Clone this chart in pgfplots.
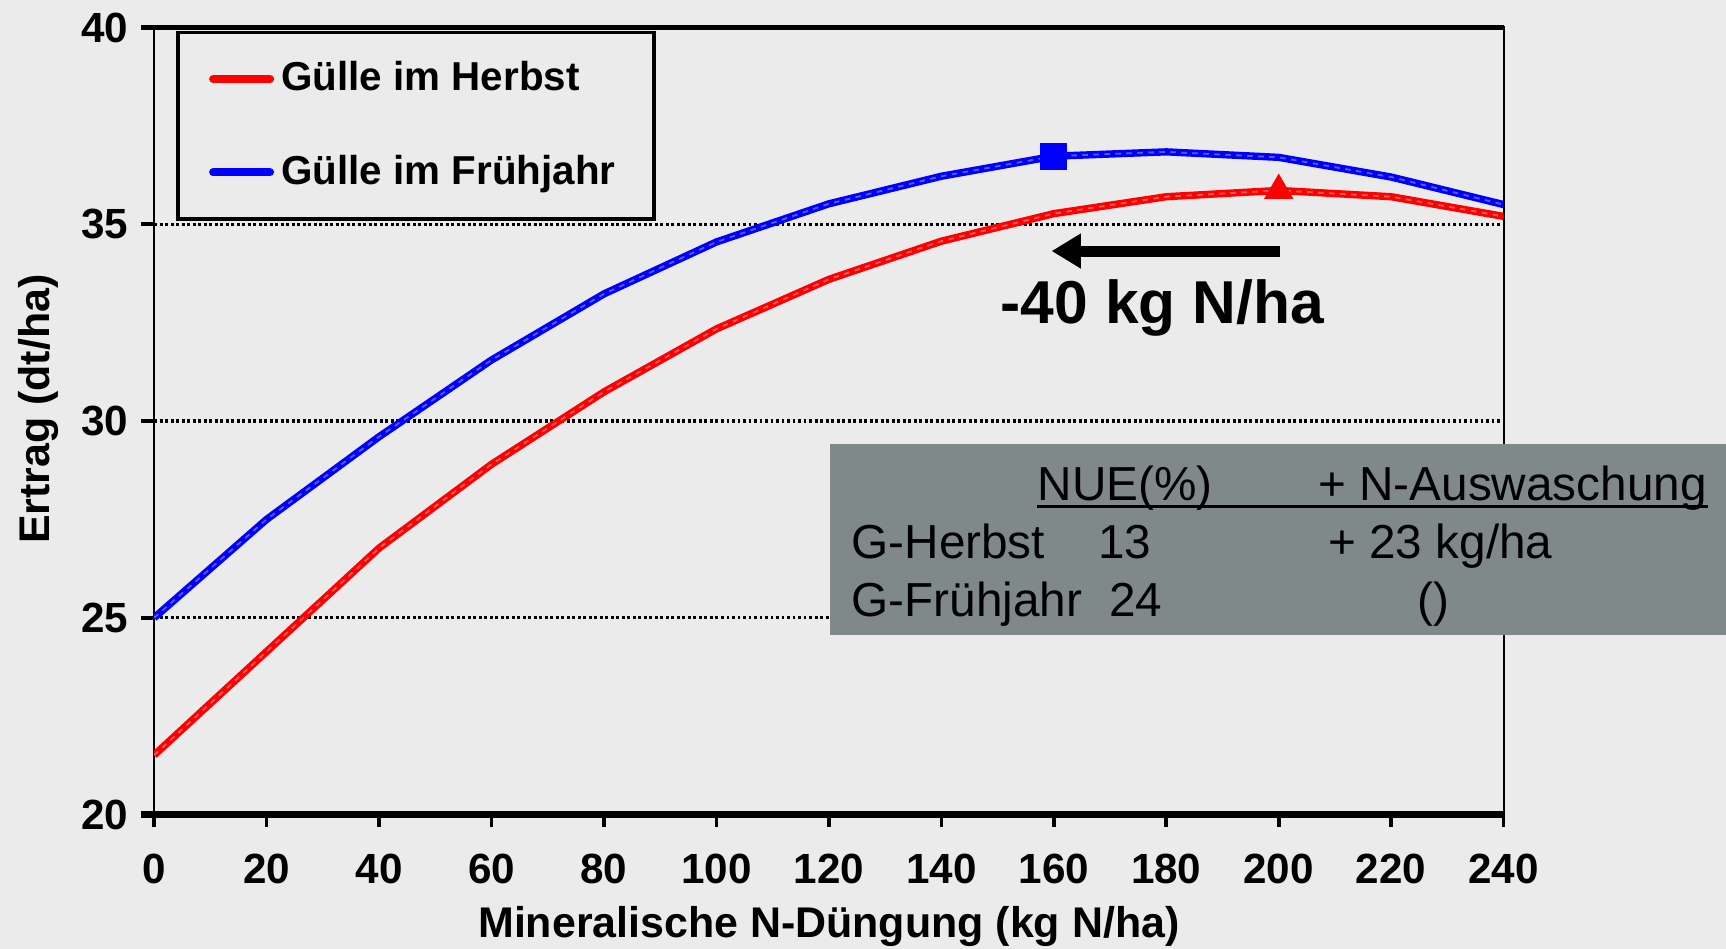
\documentclass[border=0pt]{standalone}
\usepackage{pgfplots}
\pgfplotsset{compat=1.18}
\usepackage{fontspec}
\setmainfont{Liberation Sans}
\usetikzlibrary{arrows.meta}
\definecolor{bg}{HTML}{EBEBEB}
\definecolor{tabfill}{HTML}{7F8989}
\definecolor{myred}{HTML}{FF0000}
\definecolor{myblue}{HTML}{0000FF}
\begin{document}
\begin{tikzpicture}
\fill[bg] (-42pt,-36.6pt) rectangle (428.4pt,222pt);
\begin{axis}[
  at={(0pt,0pt)}, anchor=south west,
  scale only axis, width=367.8pt, height=214.5pt,
  xmin=0, xmax=240, ymin=20, ymax=40,
  xtick={0,20,...,240}, ytick={20,25,...,40},
  xtick pos=bottom, ytick pos=left,
  tick align=outside, major tick length=3.5pt,
  tick style={black, line width=1pt},
  axis line style={black, line width=0.6pt},
  ymajorgrids, grid style={black, line width=0.9pt, dash pattern=on 0.8pt off 0.7pt},
  /pgf/number format/assume math mode=true,
  tick label style={font=\bfseries\fontsize{11.5}{13}\selectfont},
  xticklabel style={yshift=-3.6pt},
  xlabel={Mineralische N-Düngung (kg N/ha)},
  ylabel={Ertrag (dt/ha)},
  label style={font=\bfseries\fontsize{11.7}{13}\selectfont},
  xlabel style={at={(axis description cs:0.5,-0.1566)}, anchor=base},
  ylabel style={at={(axis description cs:-0.0775,0.515)}, anchor=base},
  legend style={at={(axis description cs:0.0163,0.9958)}, anchor=north west,
    draw=black, line width=1pt, fill=bg, inner xsep=8.5pt, inner ysep=5.9pt,
    row sep=12pt, font=\bfseries\fontsize{11}{13}\selectfont},
  legend cell align=left,
  legend image code/.code={\draw[#1, line width=2.2pt, line cap=round] (2pt,0pt) -- (17.5pt,0pt);},
]
\addplot[myred, line width=2pt] coordinates {
(0,21.51) (20,24.14) (40,26.77) (60,28.90) (80,30.74) (100,32.34) (120,33.60)
(140,34.57) (160,35.27) (180,35.70) (200,35.86) (220,35.70) (240,35.20)};
\addplot[myblue, line width=2pt] coordinates {
(0,25.00) (20,27.50) (40,29.60) (60,31.55) (80,33.23) (100,34.55) (120,35.52)
(140,36.22) (160,36.73) (180,36.84) (200,36.70) (220,36.20) (240,35.50)};
\addplot[white, opacity=0.35, line width=0.5pt, dash pattern=on 1.5pt off 1.5pt, forget plot] coordinates {
(0,21.51) (20,24.14) (40,26.77) (60,28.90) (80,30.74) (100,32.34) (120,33.60)
(140,34.57) (160,35.27) (180,35.70) (200,35.86) (220,35.70) (240,35.20)};
\addplot[white, opacity=0.35, line width=0.5pt, dash pattern=on 1.5pt off 1.5pt, forget plot] coordinates {
(0,25.00) (20,27.50) (40,29.60) (60,31.55) (80,33.23) (100,34.55) (120,35.52)
(140,36.22) (160,36.73) (180,36.84) (200,36.70) (220,36.20) (240,35.50)};
\addplot[only marks, mark=square*, mark size=3.5pt, myblue, forget plot] coordinates {(160,36.73)};
\addplot[only marks, mark=triangle*, mark size=4.2pt, myred, forget plot] coordinates {(200,35.86)};
\legend{Gülle im Herbst, Gülle im Frühjahr}
\draw[black, line width=3pt, -{Triangle[length=8pt, width=9pt]}] (axis cs:200.3,34.32) -- (axis cs:159.6,34.32);
\node[font=\bfseries\fontsize{16.5}{18}\selectfont] at (axis cs:179.3,32.87) {-40 kg N/ha};
\end{axis}
\draw[black, line width=2pt] (-3.5pt,0pt) -- (367.8pt,0pt);
\draw[black, line width=1.3pt] (-3.5pt,214.5pt) -- (367.8pt,214.5pt);
% table box
\fill[tabfill] (184.2pt,48.9pt) rectangle (428.4pt,101.1pt);
\begin{scope}[every node/.style={inner sep=0pt, anchor=base west, font=\fontsize{13}{15}\selectfont, text=black}]
\node at (240.6pt,85.5pt) {NUE(\%)};
\node at (317.1pt,85.5pt) {+ N-Auswaschung};
\draw[black, line width=0.9pt] (240.6pt,84.0pt) -- (423.6pt,84.0pt);
\node at (189.9pt,69.9pt) {G-Herbst};
\node at (257.1pt,69.9pt) {13};
\node at (319.8pt,69.9pt) {+ 23 kg/ha};
\node at (189.9pt,54.0pt) {G-Frühjahr};
\node at (260.1pt,54.0pt) {24};
\node at (344.1pt,54.0pt) {()};
\end{scope}
\pgfresetboundingbox
\path[use as bounding box] (-42pt,-36.6pt) rectangle (428.4pt,222pt);
\end{tikzpicture}
\end{document}
